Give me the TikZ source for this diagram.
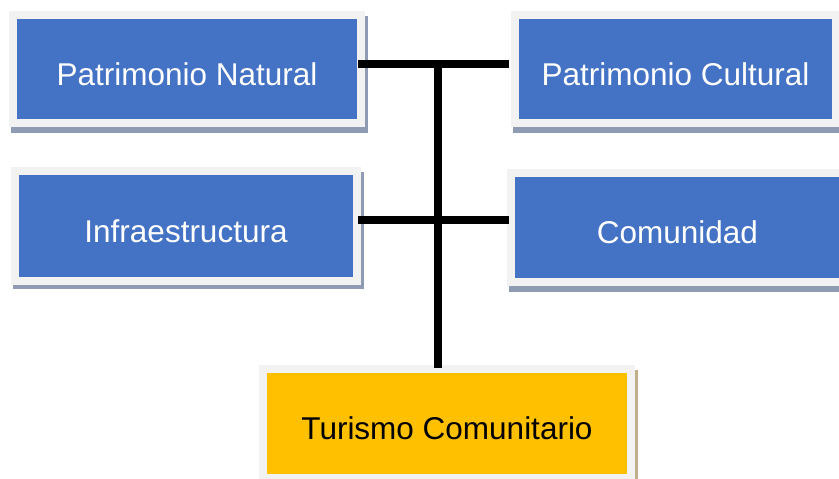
\documentclass[tikz,border=0pt]{standalone}
\usepackage{fontspec}
\setmainfont{Liberation Sans}
\definecolor{boxblue}{HTML}{4472C4}
\definecolor{boxyellow}{HTML}{FFC000}
\definecolor{framegray}{HTML}{F2F2F2}
\definecolor{shadowgray}{HTML}{8E9BB2}
\definecolor{shadowtan}{HTML}{BFB08A}
\tikzset{
  box/.style={rectangle, draw=framegray, line width=8pt, inner sep=0pt,
    text height=36pt, text depth=3.4pt,
    font=\fontsize{31.5}{36}\selectfont},
  bluebox/.style={box, fill=boxblue, text=white},
  yellowbox/.style={box, fill=boxyellow, text=black},
  conn/.style={line width=8pt, black, line cap=butt},
}
\begin{document}
\begin{tikzpicture}[x=1pt,y=-1pt]
\useasboundingbox (0,0) rectangle (839,479);
% shadows
\fill[shadowgray] (11,16) rectangle (368,133);
\fill[shadowgray] (513,16) rectangle (843,133);
\fill[shadowgray] (13,172) rectangle (364,289);
\fill[shadowgray] (509,174) rectangle (844,292);
\fill[shadowtan] (261,370) rectangle (638,483);
% boxes
\node[bluebox, minimum width=348pt, minimum height=108pt] (pn) at (187,69) {Patrimonio Natural};
\node[bluebox, minimum width=321pt, minimum height=108pt] (pc) at (675.5,69) {Patrimonio Cultural};
\node[bluebox, minimum width=342pt, minimum height=110pt] (inf) at (186,226) {Infraestructura};
\node[bluebox, minimum width=333pt, minimum height=109pt] (com) at (677.5,227.5) {Comunidad};
\node[yellowbox, minimum width=368pt, minimum height=109pt] (tur) at (447,423.5) {Turismo Comunitario};
% connectors
\coordinate (j1) at (437.5,63.5);
\coordinate (j2) at (437.5,220);
\coordinate (jb) at (437.5,368);
\draw[conn] ([xshift=-7pt]pn.east |- j1) -- ([xshift=-2pt]pc.west |- j1);
\draw[conn] ([xshift=-3pt]inf.east |- j2) -- ([xshift=2pt]com.west |- j2);
\draw[conn] (j1) -- (jb);
\end{tikzpicture}
\end{document}
